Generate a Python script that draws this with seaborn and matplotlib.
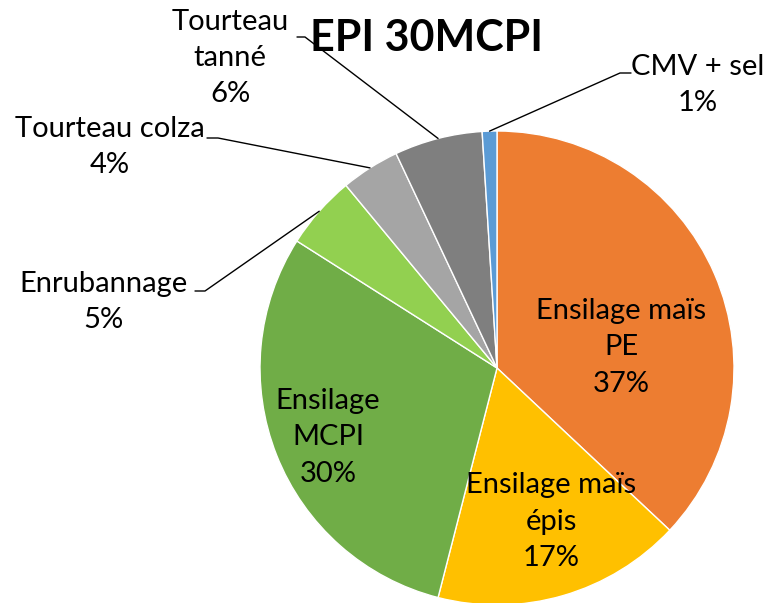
import numpy as np
import seaborn as sns
import matplotlib.pyplot as plt

sns.set_style("white")
plt.rcParams["font.family"] = ["Lato", "DejaVu Sans"]

title = "EPI 30MCPI"
labels = ["Ensilage maïs\nPE", "Ensilage maïs\népis", "Ensilage\nMCPI",
          "Enrubannage", "Tourteau colza", "Tourteau\ntanné", "CMV + sel"]
values = [37, 17, 30, 5, 4, 6, 1]
colors = ["#ED7D31", "#FFC000", "#70AD47", "#92D050", "#A5A5A5", "#7F7F7F", "#5B9BD5"]

# label layout in pixels (y from top); None = inside the slice
inner_pos = [(621, 347), (551, 522), (328, 437), None, None, None, None]
outer_pos = [None, None, None, (103, 302), (110, 147), (230, 58), (698, 85)]
elbow = [None, None, None, ((195, 291), (205, 291)), ((207, 138), (218, 138)),
         ((297, 37), (305, 37)), ((631, 73), (620, 73))]

W, H = 766, 603
cx, cy, r = 497, 368, 237

fig = plt.figure(figsize=(W / 100, H / 100), dpi=100)
ax = fig.add_axes([0, 0, 1, 1])

wedges, _ = ax.pie(values, colors=colors, startangle=90, counterclock=False,
                   center=(cx, H - cy), radius=r, frame=True,
                   wedgeprops=dict(edgecolor="white", linewidth=1))
ax.set_xlim(0, W)
ax.set_ylim(0, H)
ax.axis("off")

fs = 21
for i, w in enumerate(wedges):
    txt = f"{labels[i]}\n{values[i]}%"
    if inner_pos[i] is not None:
        x, y = inner_pos[i]
        ax.text(x, H - y, txt, ha="center", va="center", fontsize=fs,
                linespacing=1.5, color="black")
    else:
        x, y = outer_pos[i]
        ax.text(x, H - y, txt, ha="center", va="center", fontsize=fs,
                linespacing=1.5, color="black")
        ang = np.deg2rad((w.theta1 + w.theta2) / 2)
        ex = cx + r * np.cos(ang)
        ey = (H - cy) + r * np.sin(ang)
        (ax1, ay1), (ax2, ay2) = elbow[i]
        ax.plot([ax1, ax2, ex], [H - ay1, H - ay2, ey], color="black", lw=1)

ax.text(427, H - 38, title, ha="center", va="center", fontsize=31,
        fontweight="bold", color="black")

fig.savefig("out.png", dpi=100)
